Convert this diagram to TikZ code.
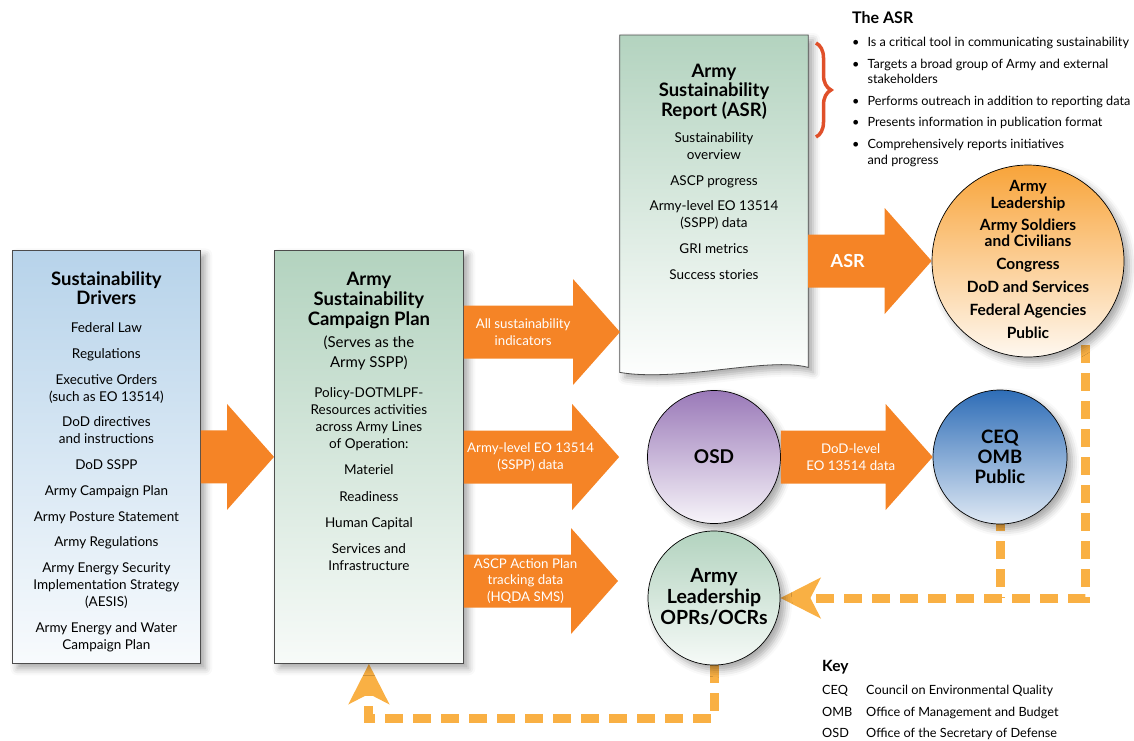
\documentclass[tikz,border=0pt]{standalone}
\usepackage{fontspec}
\setmainfont{Lato}
\usetikzlibrary{positioning,calc,shapes.geometric,shadows.blur,decorations.pathreplacing,arrows.meta,backgrounds}

\definecolor{driverblue}{HTML}{B7D3EA}
\definecolor{plangreen}{HTML}{B3D3BF}
\definecolor{fatorange}{HTML}{F58426}
\definecolor{dashorange}{HTML}{F9B044}
\definecolor{audorange}{HTML}{F8A43A}
\definecolor{osdpurple}{HTML}{9A79B8}
\definecolor{ceqblue}{HTML}{2E6DB7}
\definecolor{bracered}{HTML}{E0502A}

\tikzset{
  panel/.style={draw=black!70, line width=0.8pt, inner sep=0pt,
    blur shadow={shadow xshift=5pt, shadow yshift=-5pt, shadow blur radius=7pt, shadow opacity=35}},
  ball/.style={draw=black, line width=0.7pt, inner sep=0pt, align=center,
    blur shadow={shadow xshift=5pt, shadow yshift=-5pt, shadow blur radius=7pt, shadow opacity=35}},
  bigarrow/.style={fill=fatorange},
  arrowtext/.style={text=white, align=center, inner sep=0pt, font=\fontsize{13.3}{16.5}\selectfont},
  feedback/.style={draw=dashorange, line width=9pt, dash pattern=on 18pt off 10pt},
  boxtitle/.style={align=center, inner sep=0pt, font=\bfseries\fontsize{18.5}{19.5}\selectfont},
  boxtext/.style={align=center, inner sep=0pt, font=\fontsize{13.5}{17}\selectfont},
  balltext/.style={align=center, inner sep=0pt, font=\bfseries\fontsize{15.5}{16.5}\selectfont},
}

% fat orange arrow: [label position], tail, tip, label name, label text
\newcommand{\fatarrow}[5][0.4]{%
  \fill[bigarrow] ($(#2)+(0,26.5)$) -- ($(#3)+(-47,26.5)$) -- ($(#3)+(-47,53)$) -- (#3)
    -- ($(#3)+(-47,-53)$) -- ($(#3)+(-47,-26.5)$) -- ($(#2)+(0,-26.5)$) -- cycle;
  \node[arrowtext] (#4) at ($(#2)!#1!(#3)$) {#5};}

\begin{document}
\begin{tikzpicture}[x=1pt, y=1pt, >=Stealth]

        \useasboundingbox (0,0) rectangle (1134,-740);

        % === Boxes ===
        \node[panel, minimum width=188pt, minimum height=413pt, anchor=north west,
              top color=driverblue, bottom color=driverblue!10] (drivers) at (12,-250) {};
        \node[panel, minimum width=189pt, minimum height=413pt, anchor=north west,
              top color=plangreen, bottom color=plangreen!10] (plan) at (274,-250) {};
        \node[minimum width=188pt, minimum height=337pt, anchor=north, inner sep=0pt] (report) at (714,-35) {};
        \path[panel, top color=plangreen, bottom color=white] (report.north west) -- (report.north east)
          -- ($(report.south east)+(0,5)$) .. controls ($(report.south east)+(-40,16)$)
          and ($(report.south west)+(60,-10)$) .. (report.south west) -- cycle;

        % Drivers text
        \node[boxtitle, below=21.5pt of drivers.north] (drvtitle) {Sustainability\\Drivers};
        \node[boxtext, below=72.5pt of drivers.north] (drvlist) {Federal Law\\[9pt]
          Regulations\\[8.5pt] Executive Orders\\(such as EO 13514)\\[8.5pt]
          DoD directives\\and instructions\\[9pt] DoD SSPP\\[9pt] Army Campaign Plan\\[8.5pt]
          Army Posture Statement\\[8.5pt] Army Regulations\\[8.5pt] Army Energy Security\\
          Implementation Strategy\\(AESIS)\\[9pt] Army Energy and Water\\Campaign Plan};

        % Plan text
        \node[boxtitle, font=\bfseries\fontsize{18.5}{20}\selectfont, below=21.5pt of plan.north] (plantitle)
          {Army\\Sustainability\\Campaign Plan};
        \node[boxtext, font=\fontsize{15}{20}\selectfont, below=85.5pt of plan.north] (planrole)
          {(Serves as the\\Army SSPP)};
        \node[boxtext, below=137.5pt of plan.north] (planlist) {Policy-DOTMLPF-\\Resources activities\\
          across Army Lines\\of Operation:\\[9pt] Materiel\\[10pt] Readiness\\[9pt] Human Capital\\[9pt]
          Services and\\Infrastructure};

        % Report text
        \node[boxtitle, below=28.5pt of report.north] (reptitle) {Army\\Sustainability\\Report (ASR)};
        \node[boxtext, below=97.5pt of report.north] (replist) {Sustainability\\overview\\[8.5pt]
          ASCP progress\\[8.5pt] Army-level EO 13514\\(SSPP) data\\[8.5pt] GRI metrics\\[9.5pt]
          Success stories};

        % === Circles ===
        \node[ball, circle, minimum size=192pt, top color=audorange, bottom color=audorange!8] (aud) at (1028,-261) {};
        \node[balltext, below=15.5pt of aud.north] (audtext) {Army\\Leadership\\[5.5pt]
          Army Soldiers\\and Civilians\\[6.5pt] Congress\\[6.5pt] DoD and Services\\[6.5pt]
          Federal Agencies\\[6.5pt] Public};

        \node[ball, circle, minimum size=133pt, top color=osdpurple, bottom color=osdpurple!8,
              font=\bfseries\fontsize{19}{20}\selectfont] (osd) at (714,-457) {OSD};
        \node[ball, circle, minimum size=134pt, top color=ceqblue, bottom color=ceqblue!15,
              font=\bfseries\fontsize{18.5}{20}\selectfont] (ceq) at (1000,-457) {CEQ\\OMB\\Public};
        \node[ball, ellipse, minimum width=132pt, minimum height=134pt,
              top color=plangreen, bottom color=plangreen!12] (lead) at (714,-598) {};
        \node[balltext, font=\bfseries\fontsize{19.5}{21}\selectfont] (leadtext) at ($(lead)+(0,1)$)
          {Army\\Leadership\\OPRs/OCRs};

        % === Fat arrows ===
        \coordinate (t1) at (620,-332);
        \coordinate (t2) at ($(osd.west)+(-28,0)$);
        \coordinate (t3) at (618,-581);

        \fatarrow{drivers.east}{plan.west}{a0}{};
        \fatarrow[0.38]{plan.east |- t1}{t1}{a1}{All sustainability\\indicators};
        \fatarrow[0.43]{plan.east |- t2}{t2}{a2}{Army-level EO 13514\\(SSPP) data};
        \fatarrow{plan.east |- t3}{t3}{a3}{ASCP Action Plan\\tracking data\\(HQDA SMS)};
        \fatarrow[0.32]{report.east |- aud.west}{aud.west}{a4}{\bfseries\fontsize{18}{20}\selectfont ASR};
        \fatarrow[0.46]{osd.east}{ceq.west}{a5}{DoD-level\\EO 13514 data};

        % === Feedback (dashed) ===
        \begin{scope}[on background layer]
          \draw[feedback, -{Stealth[length=40pt, width=40pt, inset=10pt]}] ($(aud.center)+(57,0)$) |- (lead.east);
          \draw[feedback] (ceq.center) -- (ceq.center |- lead.east);
          \draw[feedback, -{Stealth[length=40pt, width=40pt, inset=10pt]}] (lead.south) -- ++(0,-53) -| (plan.south);
        \end{scope}

        % === The ASR note ===
        \draw[decorate, decoration={brace, amplitude=15pt}, draw=bracered, line width=3.5pt]
          (816,-43) -- (816,-137);
        \node[anchor=north west, inner sep=0pt, font=\fontsize{12.7}{15}\selectfont] (asrnote) at (852,-11.3) {%
          \begin{tabular}{@{}l@{\hspace{8pt}}l@{}}
            \multicolumn{2}{@{}l}{\bfseries\fontsize{16}{17}\selectfont The ASR}\\[8pt]
            \textbullet & Is a critical tool in communicating sustainability\\[7pt]
            \textbullet & Targets a broad group of Army and external\\[0pt]
                        & stakeholders\\[7pt]
            \textbullet & Performs outreach in addition to reporting data\\[6pt]
            \textbullet & Presents information in publication format\\[7pt]
            \textbullet & Comprehensively reports initiatives\\[1pt]
                        & and progress
          \end{tabular}};

        % === Key ===
        \node[anchor=north west, inner sep=0pt, font=\fontsize{12.7}{15}\selectfont] (key) at (822,-660.4) {%
          \begin{tabular}{@{}p{44pt}@{}l@{}}
            \multicolumn{2}{@{}l}{\bfseries\fontsize{15.5}{17}\selectfont Key}\\[8pt]
            CEQ & Council on Environmental Quality\\[7pt]
            OMB & Office of Management and Budget\\[6pt]
            OSD & Office of the Secretary of Defense
          \end{tabular}};

    \end{tikzpicture}
\end{document}
